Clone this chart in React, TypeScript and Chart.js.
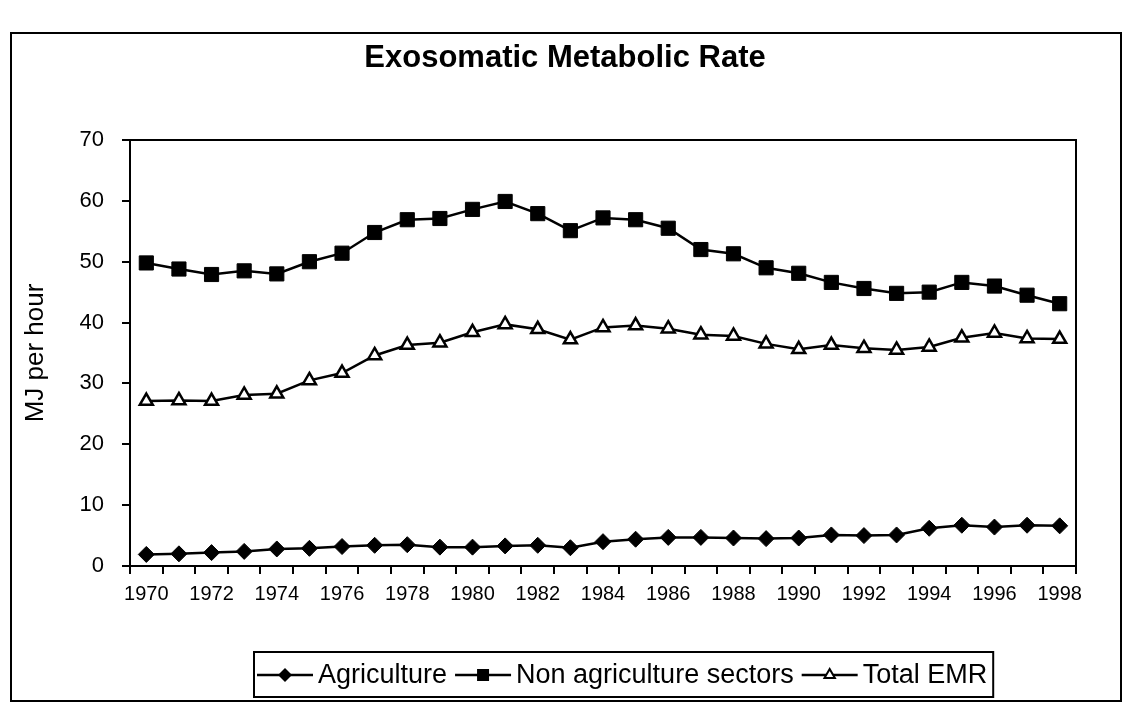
import React, { useEffect, useRef } from 'react';
import { Chart, registerables } from 'chart.js';

Chart.register(...registerables);

const FONT = '"Liberation Sans", Arial, Helvetica, sans-serif';

const years = [
  '1970', '1971', '1972', '1973', '1974', '1975', '1976', '1977', '1978', '1979',
  '1980', '1981', '1982', '1983', '1984', '1985', '1986', '1987', '1988', '1989',
  '1990', '1991', '1992', '1993', '1994', '1995', '1996', '1997', '1998',
];

const agriculture = [
  1.9, 2.0, 2.2, 2.4, 2.8, 2.9, 3.2, 3.4, 3.5, 3.1,
  3.1, 3.3, 3.4, 3.0, 4.0, 4.4, 4.7, 4.7, 4.6, 4.5,
  4.6, 5.1, 5.0, 5.1, 6.2, 6.7, 6.4, 6.7, 6.6,
];

const nonAgriculture = [
  49.8, 48.8, 47.9, 48.5, 48.0, 50.0, 51.4, 54.8, 56.9, 57.1,
  58.6, 59.9, 57.9, 55.1, 57.2, 56.9, 55.5, 52.0, 51.3, 49.0,
  48.1, 46.6, 45.6, 44.8, 45.0, 46.6, 46.0, 44.5, 43.1,
];

const totalEMR = [
  27.1, 27.2, 27.1, 28.1, 28.3, 30.5, 31.7, 34.6, 36.3, 36.7,
  38.4, 39.7, 38.9, 37.2, 39.2, 39.5, 39.0, 38.0, 37.8, 36.5,
  35.6, 36.3, 35.8, 35.5, 36.0, 37.5, 38.3, 37.4, 37.3,
];

const seriesLabels = ['Agriculture', 'Non agriculture sectors', 'Total EMR'];
const titleText = 'Exosomatic Metabolic Rate';
const yTitle = 'MJ per hour';

function drawMarker(ctx: CanvasRenderingContext2D, style: string, x: number, y: number) {
  ctx.save();
  ctx.beginPath();
  if (style === 'rectRot') {
    const r = 7;
    ctx.moveTo(x, y - r);
    ctx.lineTo(x + r, y);
    ctx.lineTo(x, y + r);
    ctx.lineTo(x - r, y);
    ctx.closePath();
    ctx.fillStyle = '#000';
    ctx.fill();
  } else if (style === 'rect') {
    const s = 6;
    ctx.rect(x - s, y - s, 2 * s, 2 * s);
    ctx.fillStyle = '#000';
    ctx.fill();
  } else {
    const r = 6;
    ctx.moveTo(x, y - r);
    ctx.lineTo(x + r * 0.866, y + r * 0.5);
    ctx.lineTo(x - r * 0.866, y + r * 0.5);
    ctx.closePath();
    ctx.fillStyle = '#fff';
    ctx.fill();
    ctx.lineWidth = 2;
    ctx.strokeStyle = '#000';
    ctx.stroke();
  }
  ctx.restore();
}

const frameAndLegend = {
  id: 'frameAndLegend',
  afterDraw(chart: any) {
    const ctx: CanvasRenderingContext2D = chart.ctx;
    const a = chart.chartArea;
    ctx.save();
    ctx.strokeStyle = '#000';
    ctx.lineWidth = 2;
    ctx.strokeRect(a.left, a.top, a.right - a.left, a.bottom - a.top);

    // title
    ctx.font = `bold 31px ${FONT}`;
    ctx.fillStyle = '#000';
    ctx.textAlign = 'center';
    ctx.textBaseline = 'middle';
    ctx.fillText(titleText, 553, 24);

    // legend
    ctx.font = `27px ${FONT}`;
    ctx.textBaseline = 'middle';
    ctx.textAlign = 'left';
    const ds = chart.data.datasets;
    const lineW = 56, gapText = 5, gapItem = 8, padL = 3, padR = 6;
    const widths = ds.map((d: any) => ctx.measureText(d.label).width);
    let total = padL + padR + gapItem * (ds.length - 1);
    widths.forEach((w: number) => { total += lineW + gapText + w; });
    const cx = 612;
    const top = 618, bottom = 663, cy = 641;
    const left = Math.round(cx - total / 2);
    ctx.lineWidth = 2;
    ctx.strokeRect(left, top, total, bottom - top);
    let x = left + padL;
    ds.forEach((d: any, i: number) => {
      ctx.beginPath();
      ctx.moveTo(x, cy);
      ctx.lineTo(x + lineW, cy);
      ctx.lineWidth = 2.5;
      ctx.strokeStyle = '#000';
      ctx.stroke();
      drawMarker(ctx, d.pointStyle, x + lineW / 2, cy);
      x += lineW + gapText;
      ctx.fillStyle = '#000';
      ctx.fillText(d.label, x, cy + 1);
      x += widths[i] + gapItem;
    });
    ctx.restore();
  },
};

export default function App() {
  const ref = useRef<HTMLCanvasElement | null>(null);

  useEffect(() => {
    if (!ref.current) return;
    Chart.defaults.font.family = FONT;
    Chart.defaults.color = '#000';
    const chart = new Chart(ref.current, {
      type: 'line',
      data: {
        labels: years,
        datasets: [
          {
            label: seriesLabels[0],
            data: agriculture,
            borderColor: '#000',
            borderWidth: 2.5,
            pointStyle: 'rectRot',
            pointRadius: 8,
            pointBackgroundColor: '#000',
            pointBorderColor: '#000',
            pointBorderWidth: 1,
            tension: 0,
          },
          {
            label: seriesLabels[1],
            data: nonAgriculture,
            borderColor: '#000',
            borderWidth: 2.5,
            pointStyle: 'rect',
            pointRadius: 10,
            pointBackgroundColor: '#000',
            pointBorderColor: '#000',
            pointBorderWidth: 1,
            tension: 0,
          },
          {
            label: seriesLabels[2],
            data: totalEMR,
            borderColor: '#000',
            borderWidth: 2.5,
            pointStyle: 'triangle',
            pointRadius: 7.5,
            pointBackgroundColor: '#fff',
            pointBorderColor: '#000',
            pointBorderWidth: 2.5,
            tension: 0,
          },
        ],
      } as any,
      options: {
        animation: false,
        responsive: false,
        devicePixelRatio: 1,
        layout: { padding: { left: 0, right: 44, top: 106, bottom: 94 } },
        plugins: {
          legend: { display: false },
          tooltip: { enabled: false },
          title: { display: false },
        },
        scales: {
          x: {
            type: 'category',
            offset: true,
            grid: {
              display: true,
              offset: true,
              drawOnChartArea: false,
              drawTicks: true,
              tickLength: 8,
              color: '#000',
              lineWidth: 2,
            },
            border: { display: true, color: '#000', width: 2 },
            ticks: {
              autoSkip: false,
              maxRotation: 0,
              minRotation: 0,
              padding: 8,
              color: '#000',
              font: { size: 20, family: FONT },
              callback: (_v: any, i: number) => (i % 2 === 0 ? years[i] : ''),
            },
            afterFit: (s: any) => { s.height = 40; },
          },
          y: {
            min: 0,
            max: 70,
            grid: {
              display: true,
              drawOnChartArea: false,
              drawTicks: true,
              tickLength: 8,
              color: '#000',
              lineWidth: 2,
            },
            border: { display: true, color: '#000', width: 2 },
            ticks: {
              stepSize: 10,
              padding: 18,
              color: '#000',
              font: { size: 22, family: FONT },
            },
            title: {
              display: true,
              text: yTitle,
              color: '#000',
              font: { size: 26, family: FONT },
              padding: { top: 8, bottom: 0 },
            },
            afterFit: (s: any) => { s.width = 118; },
          },
        },
      } as any,
      plugins: [frameAndLegend],
    });
    return () => chart.destroy();
  }, []);

  return (
    <div
      style={{
        position: 'absolute',
        left: 10,
        top: 32,
        width: 1108,
        height: 666,
        border: '2px solid #000',
        background: '#fff',
      }}
    >
      <canvas ref={ref} width={1108} height={666} style={{ display: 'block' }} />
    </div>
  );
}
